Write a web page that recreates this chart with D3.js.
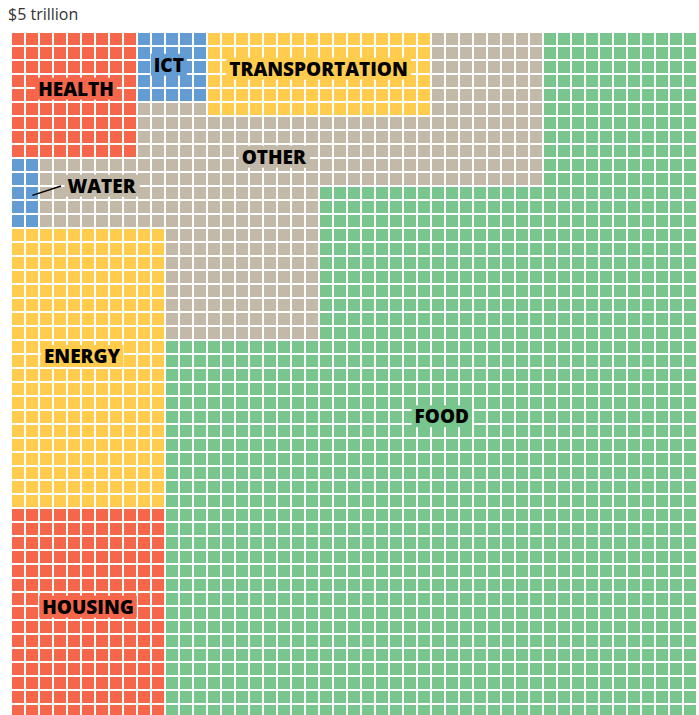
<!DOCTYPE html>
<html>
<head>
<meta charset="utf-8">
<script src="https://cdn.jsdelivr.net/npm/d3@7"></script>
<style>
    body { margin: 0; overflow: hidden; background: #fff; }
    .title { font-family: "Open Sans", sans-serif; font-size: 16px; fill: #333; }
    .label { font-family: "Open Sans", sans-serif; font-weight: 800; font-size: 19px; fill: #000; }
</style>
</head>
<body>
<div id="chart"></div>
<script>

// each cell = $2 billion, 49 x 49 cells = ~$5 trillion
const categories = ["HEALTH", "ICT", "TRANSPORTATION", "WATER", "ENERGY", "HOUSING", "OTHER", "FOOD"];
const cellCounts = [81, 25, 96, 10, 220, 165, 360, 1444];
const colors = ["#f5664b", "#639bd3", "#ffcc4d", "#639bd3", "#ffcc4d", "#f5664b", "#c2b9a9", "#78c68e"];

// layout of each category on the grid, in cell units: [category, col, row, cols, rows]
const blocks = [
    ["HEALTH", 0, 0, 9, 9],
    ["ICT", 9, 0, 5, 5],
    ["TRANSPORTATION", 14, 0, 16, 6],
    ["WATER", 0, 9, 2, 5],
    ["ENERGY", 0, 14, 11, 20],
    ["HOUSING", 0, 34, 11, 15],
    ["OTHER", 9, 5, 5, 1],
    ["OTHER", 30, 0, 8, 6],
    ["OTHER", 9, 6, 29, 3],
    ["OTHER", 2, 9, 36, 2],
    ["OTHER", 2, 11, 20, 3],
    ["OTHER", 11, 14, 11, 8],
    ["FOOD", 38, 0, 11, 11],
    ["FOOD", 22, 11, 27, 11],
    ["FOOD", 11, 22, 38, 27]
];

// label anchor in cell units: [category, col, row, area it sits on]
const labelPos = [
    ["HEALTH", 4.57, 4.0, "HEALTH"],
    ["ICT", 11.2, 2.29, "ICT"],
    ["TRANSPORTATION", 21.9, 2.57, "TRANSPORTATION"],
    ["OTHER", 18.7, 8.86, "OTHER"],
    ["WATER", 6.4, 10.93, "OTHER"],
    ["ENERGY", 5.0, 23.1, "ENERGY"],
    ["FOOD", 30.7, 27.4, "FOOD"],
    ["HOUSING", 5.43, 41.0, "HOUSING"]
];

const nCols = 49, nRows = 49;
const step = 14, cellSize = 12;

let width = 699, height = 33 + nRows * step;

let svg = d3.select("#chart").append("svg")
    .attr("width", width)
    .attr("height", height);

let x = d3.scaleLinear().domain([0, nCols]).range([12, 12 + nCols * step]);
let y = d3.scaleLinear().domain([0, nRows]).range([33, 33 + nRows * step]);
let color = d3.scaleOrdinal().domain(categories).range(colors);

svg.append("text")
    .attr("class", "title")
    .attr("x", 8)
    .attr("y", 20)
    .text("$5 trillion");

// expand blocks into single cells
let cells = [];
blocks.forEach(function (b) {
    for (let r = 0; r < b[4]; r++) {
        for (let c = 0; c < b[3]; c++) {
            cells.push({cat: b[0], col: b[1] + c, row: b[2] + r});
        }
    }
});

svg.append("g").selectAll("rect")
    .data(cells)
    .enter().append("rect")
    .attr("x", d => x(d.col))
    .attr("y", d => y(d.row))
    .attr("width", cellSize)
    .attr("height", cellSize)
    .attr("fill", d => color(d.cat));

// leader line for water
svg.append("line")
    .attr("x1", x(1.45)).attr("y1", y(11.6))
    .attr("x2", x(3.5)).attr("y2", y(10.93))
    .attr("stroke", "#000")
    .attr("stroke-width", 1.5);

let labels = svg.append("g").selectAll("g")
    .data(labelPos)
    .enter().append("g");

labels.append("rect");
labels.append("text")
    .attr("class", "label")
    .attr("x", d => x(d[1]))
    .attr("y", d => y(d[2]))
    .attr("text-anchor", "middle")
    .attr("dy", "0.35em")
    .text(d => d[0]);

// background in the colour of the area behind each label
labels.each(function (d) {
    let g = d3.select(this);
    let bb = g.select("text").node().getBBox();
    g.select("rect")
        .attr("x", bb.x - 3)
        .attr("y", bb.y + 2)
        .attr("width", bb.width + 6)
        .attr("height", bb.height - 4)
        .attr("fill", color(d[3]));
});

</script>
</body>
</html>
